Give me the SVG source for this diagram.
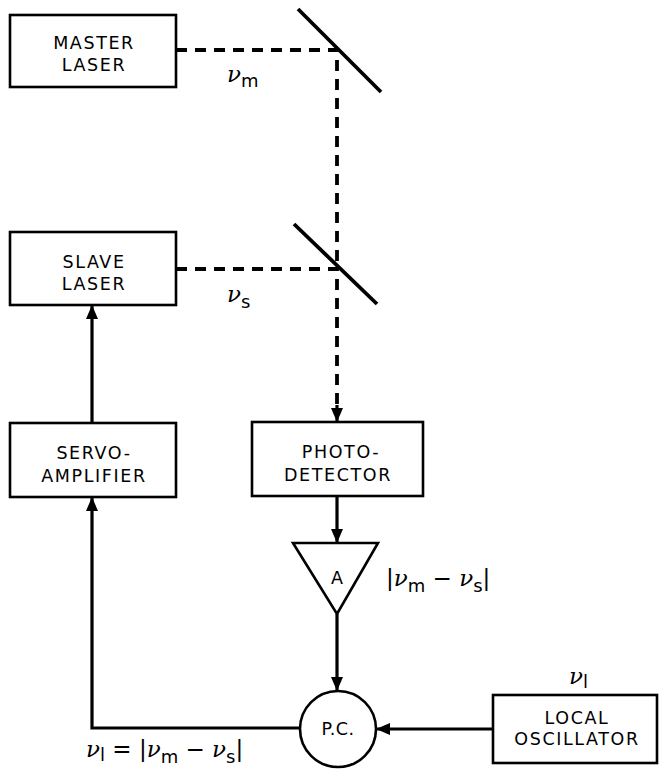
<svg xmlns="http://www.w3.org/2000/svg" width="660" height="773" viewBox="0 0 660 773">
<style>
.box{fill:#fff;stroke:#000;stroke-width:2.6}
.lbl{font-family:"DejaVu Sans","Liberation Sans",sans-serif;font-size:17.5px;letter-spacing:1.6px;text-anchor:middle;fill:#000}
.sym{font-family:"DejaVu Serif","Liberation Serif",serif;font-size:23px;font-style:italic;fill:#000}
.sub{font-family:"DejaVu Sans","Liberation Sans",sans-serif;font-size:18px;font-style:normal;fill:#000}
.op{font-family:"DejaVu Sans","Liberation Sans",sans-serif;font-style:normal}
.beam{fill:none;stroke:#000;stroke-width:3.8;stroke-dasharray:11 8}
.wire{fill:none;stroke:#000;stroke-width:3.2}
.mirror{stroke:#000;stroke-width:3.8}
</style>
<defs>
<marker id="ah" markerWidth="14" markerHeight="12" refX="13" refY="6" orient="auto" markerUnits="userSpaceOnUse">
<path d="M0,0 L14,6 L0,12 Z" fill="#000"/>
</marker>
</defs>
<rect width="660" height="773" fill="#fff"/>
<g id="connectors">
<path class="beam" d="M176,50 H337 V269"/>
<path class="beam" d="M176,269 H337 V410"/>
<line class="wire" x1="337" y1="405" x2="337" y2="421" marker-end="url(#ah)"/>
<line class="wire" x1="337" y1="497" x2="337" y2="542" marker-end="url(#ah)"/>
<line class="wire" x1="337" y1="614" x2="337" y2="690" marker-end="url(#ah)"/>
<line class="wire" x1="493" y1="729" x2="377" y2="729" marker-end="url(#ah)"/>
<path class="wire" d="M299,728 H92 V498" marker-end="url(#ah)"/>
<line class="wire" x1="92" y1="423" x2="92" y2="306" marker-end="url(#ah)"/>
</g>
<g id="mirror1"><line class="mirror" x1="298" y1="9" x2="381" y2="92"/></g>
<g id="mirror2"><line class="mirror" x1="294" y1="224" x2="377" y2="304"/></g>
<g id="master-laser">
<rect class="box" x="10" y="15" width="166" height="72"/>
<text class="lbl" x="94" y="49">MASTER</text>
<text class="lbl" x="94" y="71">LASER</text>
</g>
<g id="slave-laser">
<rect class="box" x="10" y="232" width="166" height="73"/>
<text class="lbl" x="94" y="268">SLAVE</text>
<text class="lbl" x="94" y="290">LASER</text>
</g>
<g id="servo-amplifier">
<rect class="box" x="10" y="423" width="166" height="74"/>
<text class="lbl" x="94" y="459">SERVO-</text>
<text class="lbl" x="94" y="482">AMPLIFIER</text>
</g>
<g id="photo-detector">
<rect class="box" x="252" y="422" width="171" height="74"/>
<text class="lbl" x="341" y="458">PHOTO-</text>
<text class="lbl" x="338" y="481">DETECTOR</text>
</g>
<g id="amplifier">
<polygon class="box" points="293,543 378,543 337,614"/>
<text class="lbl" x="337" y="584" style="letter-spacing:0">A</text>
</g>
<g id="phase-comparator">
<circle class="box" cx="338" cy="729" r="38"/>
<text class="lbl" x="338" y="735" style="letter-spacing:0.5px">P.C.</text>
</g>
<g id="local-oscillator">
<rect class="box" x="493" y="695" width="164" height="68"/>
<text class="lbl" x="577" y="724">LOCAL</text>
<text class="lbl" x="577" y="745">OSCILLATOR</text>
</g>
<g id="labels">
<text class="sym" x="227" y="82">ν<tspan class="sub" dy="5">m</tspan></text>
<text class="sym" x="227" y="302">ν<tspan class="sub" dy="6">s</tspan></text>
<text class="sym" x="386" y="586"><tspan class="op">|</tspan>ν<tspan class="sub" dy="6">m</tspan><tspan class="op" dy="-6"> − </tspan>ν<tspan class="sub" dy="6">s</tspan><tspan class="op" dy="-6">|</tspan></text>
<text class="sym" x="86" y="757">ν<tspan class="sub" dy="4">l</tspan><tspan class="op" dy="-4"> = |</tspan>ν<tspan class="sub" dy="6">m</tspan><tspan class="op" dy="-6"> − </tspan>ν<tspan class="sub" dy="6">s</tspan><tspan class="op" dy="-6">|</tspan></text>
<text class="sym" x="569" y="684">ν<tspan class="sub" dy="4">l</tspan></text>
</g>
</svg>
